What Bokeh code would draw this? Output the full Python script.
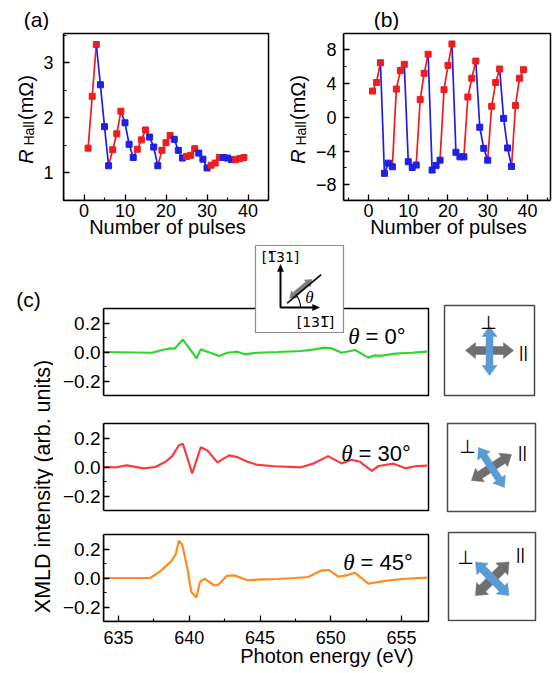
import math
import numpy as np
from bokeh.plotting import figure
from bokeh.models import Range1d, FixedTicker, Label, BoxAnnotation, PolyAnnotation
from bokeh.layouts import row, column
from bokeh.embed import file_html
from bokeh.resources import INLINE

SANS = "Liberation Sans"
SERIF = "Liberation Serif"
DEJAVU = "DejaVu Sans"

# ---------------- data ----------------
pulses = list(range(1, 40))
polarity = ["+", "+", "+", "-", "-", "-", "+", "+", "+", "-", "-", "-",
            "+", "+", "+", "-", "-", "-", "+", "+", "+", "-", "-", "-",
            "+", "+", "+", "-", "-", "-", "+", "+", "+", "-", "-", "-",
            "+", "+", "+"]
rhall_a = [1.45, 2.39, 3.33, 2.60, 1.84, 1.13, 1.42, 1.71, 2.12, 1.91, 1.52, 1.28,
           1.43, 1.60, 1.78, 1.65, 1.47, 1.13, 1.41, 1.55, 1.68, 1.61, 1.41, 1.27,
           1.30, 1.32, 1.44, 1.36, 1.25, 1.09, 1.14, 1.18, 1.28, 1.28, 1.27, 1.24,
           1.24, 1.26, 1.28]
rhall_b = [3.09, 4.11, 6.44, -6.64, -5.43, -5.86, 3.33, 5.51, 6.25, -5.27, -5.94, -5.66,
           2.08, 5.19, 7.45, -6.25, -5.70, -5.08, 3.25, 6.13, 8.66, -4.15, -4.69, -4.69,
           2.39, 4.61, 6.64, -1.19, -3.68, -5.08, 1.30, 4.11, 5.70, -0.14, -3.64, -5.82,
           1.38, 4.61, 5.62]

energy_0 = [633.93, 637.37, 638.08, 638.67, 638.96, 639.55, 640.52, 640.81, 641.28,
            642.11, 642.70, 643.41, 643.89, 644.83, 646.26, 647.91, 648.86, 649.57,
            650.05, 650.76, 651.71, 652.65, 653.13, 653.48, 654.55, 655.73, 656.80]
xmld_0 = [0.0, -0.005, 0.014, 0.025, 0.023, 0.086, -0.043, 0.018, 0.002,
          -0.027, -0.005, 0.002, -0.016, -0.005, 0.0, 0.007, 0.018, 0.030,
          0.025, -0.005, 0.014, -0.039, -0.023, -0.027, -0.011, -0.005, 0.002]

energy_30 = [633.93, 634.88, 635.59, 636.78, 637.61, 638.32, 638.79, 639.27, 639.55,
             640.21, 640.81, 641.28, 641.99, 642.82, 643.41, 644.12, 644.83, 646.02,
             647.91, 648.74, 649.81, 650.76, 651.47, 652.06, 652.89, 653.37, 654.43,
             655.26, 655.97, 656.80]
xmld_30 = [0.0, -0.002, 0.011, -0.009, 0.0, 0.036, 0.075, 0.150, 0.160,
           -0.045, 0.136, 0.114, 0.032, 0.080, 0.068, 0.036, 0.014, 0.005,
           -0.002, 0.023, 0.075, 0.025, 0.050, 0.036, -0.027, 0.007, 0.023,
           -0.009, 0.005, 0.009]

energy_45 = [633.93, 637.25, 637.96, 638.67, 639.03, 639.27, 639.50, 639.86, 640.14,
             640.50, 640.76, 641.09, 641.75, 642.04, 642.65, 643.18, 644.12, 645.07,
             646.26, 647.44, 648.39, 649.34, 649.88, 650.52, 651.11, 651.71, 652.65,
             653.84, 655.02, 656.80]
xmld_45 = [0.0, 0.0, 0.048, 0.109, 0.160, 0.257, 0.230, 0.070, -0.095,
           -0.134, -0.027, -0.005, -0.050, -0.048, 0.014, 0.018, -0.016, -0.009,
           -0.007, 0.0, 0.007, 0.052, 0.055, 0.009, 0.018, 0.036, -0.039,
           -0.020, -0.007, 0.002]

pulse_ticks = [0, 10, 20, 30, 40]
pulse_minor = [-5, 5, 15, 25, 35, 45]
a_ticks = [1, 2, 3]
a_minor = [0.5, 1.5, 2.5, 3.5]
b_ticks = [-8, -4, 0, 4, 8]
b_minor = [-10, -6, -2, 2, 6]
b_labels = {-8: "\u22128", -4: "\u22124", 0: "0", 4: "4", 8: "8"}
e_ticks = [635, 640, 645, 650, 655]
e_minor = [637.5, 642.5, 647.5, 652.5]
c_ticks = [-0.2, 0.0, 0.2]
c_minor = [-0.1, 0.1]
c_labels = {-0.2: "\u22120.2", 0.0: "0.0", 0.2: "0.2"}
A_X, A_Y = (-5, 45), (0.5, 3.53)
B_X, B_Y = (-6.3, 45.8), (-9.85, 9.9)
E_MIN, E_MAX = 633.94, 656.9
C_MIN, C_MAX = -0.3, 0.3

RED = "#ee1d1d"
BLUE = "#1f1fe6"
SPEC_COLORS = ["#2fd62f", "#fb3a3a", "#ff8c1f"]
GRAY_ARROW = "#6f6f6f"
BLUE_ARROW = "#5b9bd5"


# ---------------- helpers ----------------
def lin(px, p0, p1, v0, v1):
    return v0 + (px - p0) * (v1 - v0) / (p1 - p0)


def make_fig(canvas, frame, xr=(0, 1), yr=(0, 1), axes=True):
    cx0, cy0, cx1, cy1 = canvas
    fx0, fy0, fx1, fy1 = frame
    kw = {} if axes else dict(x_axis_type=None, y_axis_type=None)
    p = figure(width=cx1 - cx0, height=cy1 - cy0,
               x_range=Range1d(*xr), y_range=Range1d(*yr),
               min_border_left=fx0 - cx0, min_border_right=cx1 - fx1,
               min_border_top=fy0 - cy0, min_border_bottom=cy1 - fy1,
               toolbar_location=None, output_backend="svg", **kw)
    p.grid.visible = False
    p.background_fill_color = "white"
    p.border_fill_color = "white"
    p.outline_line_color = None
    return p, frame


def data_fig(canvas, frame, plot, xr, yr):
    """Frame may be larger than the drawn plot box; ranges are set so that
    xr / yr map exactly onto the plot box."""
    fx0, fy0, fx1, fy1 = frame
    px0, py0, px1, py1 = plot
    xrange_ = (lin(fx0, px0, px1, *xr), lin(fx1, px0, px1, *xr))
    yrange_ = (lin(fy1, py1, py0, *yr), lin(fy0, py1, py0, *yr))
    p, fr = make_fig(canvas, frame, xrange_, yrange_)
    p.add_layout(BoxAnnotation(left=xr[0], right=xr[1], bottom=yr[0], top=yr[1],
                               fill_alpha=0, line_color="black", line_alpha=1.0,
                               line_width=1.5))
    return p, fr


def style_axis(ax, ticks, minor, size, standoff, bounds, overrides=None):
    ax.ticker = FixedTicker(ticks=ticks, minor_ticks=minor)
    ax.bounds = bounds
    ax.major_tick_in = 6
    ax.major_tick_out = 0
    ax.minor_tick_in = 3
    ax.minor_tick_out = 0
    ax.axis_line_color = "black"
    ax.axis_line_width = 1.5
    ax.major_tick_line_color = "black"
    ax.minor_tick_line_color = "black"
    ax.major_tick_line_width = 1.3
    ax.minor_tick_line_width = 1.2
    ax.major_label_text_font = SANS
    ax.major_label_text_font_size = f"{size}px"
    ax.major_label_text_color = "black"
    ax.major_label_standoff = standoff
    if overrides:
        ax.major_label_overrides = overrides


def axis_title(ax, txt, size, standoff):
    ax.axis_label = txt
    ax.axis_label_text_font = SANS
    ax.axis_label_text_font_size = f"{size}px"
    ax.axis_label_text_font_style = "normal"
    ax.axis_label_text_color = "black"
    ax.axis_label_standoff = standoff


def S(fr, px, py):
    return px - fr[0], fr[3] - py


def text(p, fr, px, py, txt, size, font=SANS, style="normal", align="center",
         baseline="middle", angle=0.0):
    x, y = S(fr, px, py)
    p.add_layout(Label(x=x, y=y, x_units="screen", y_units="screen", text=txt,
                       text_font=font, text_font_size=f"{size}px",
                       text_font_style=style, text_align=align,
                       text_baseline=baseline, angle=angle, text_color="black"))


def poly(p, fr, pts, color, line_only=False, width=1.0):
    xs = [q[0] - fr[0] for q in pts]
    ys = [fr[3] - q[1] for q in pts]
    if line_only:
        p.add_layout(PolyAnnotation(xs=xs, ys=ys, xs_units="screen", ys_units="screen",
                                    fill_alpha=0, line_color=color, line_alpha=1.0,
                                    line_width=width))
    else:
        p.add_layout(PolyAnnotation(xs=xs, ys=ys, xs_units="screen", ys_units="screen",
                                    fill_color=color, fill_alpha=1.0, line_color=color,
                                    line_alpha=1.0, line_width=0.5))


def arrow_shape(p0, p1, shaft, head_w, head_len, both=True):
    x0, y0 = p0
    x1, y1 = p1
    L = math.hypot(x1 - x0, y1 - y0)
    ux, uy = (x1 - x0) / L, (y1 - y0) / L
    nx, ny = -uy, ux

    def at(base, along, side):
        return (base[0] + ux * along + nx * side, base[1] + uy * along + ny * side)
    hs, hh = shaft / 2, head_w / 2
    if head_len <= 0:
        return [at(p0, 0, hs), at(p1, 0, hs), at(p1, 0, -hs), at(p0, 0, -hs)]
    if both:
        return [p0, at(p0, head_len, hh), at(p0, head_len, hs), at(p1, -head_len, hs),
                at(p1, -head_len, hh), p1, at(p1, -head_len, -hh), at(p1, -head_len, -hs),
                at(p0, head_len, -hs), at(p0, head_len, -hh)]
    return [at(p0, 0, hs), at(p1, -head_len, hs), at(p1, -head_len, hh), p1,
            at(p1, -head_len, -hh), at(p1, -head_len, -hs), at(p0, 0, -hs)]


def box(p, fr, rect, color, width):
    l, t, r, b = rect
    x0, y0 = S(fr, l, b)
    x1, y1 = S(fr, r, t)
    p.add_layout(BoxAnnotation(left=x0, right=x1, bottom=y0, top=y1,
                               left_units="screen", right_units="screen",
                               top_units="screen", bottom_units="screen",
                               fill_color="white", fill_alpha=1.0,
                               line_color=color, line_alpha=1.0, line_width=width))


def polarization_box(p, fr, rect, gray, blue, perp_pos, par_pos, gshape, bshape):
    box(p, fr, rect, "#4a4a4a", 1.5)
    poly(p, fr, arrow_shape(gray[0], gray[1], *gshape), GRAY_ARROW)
    poly(p, fr, arrow_shape(blue[0], blue[1], *bshape), BLUE_ARROW)
    text(p, fr, perp_pos[0], perp_pos[1], "\u22a5", 19, font=DEJAVU)
    text(p, fr, par_pos[0], par_pos[1], "||", 17)


# ---------------- header with panel letters ----------------
head, frh = make_fig((0, 0, 554, 30), (0, 0, 554, 30), axes=False)
text(head, frh, 36, 19, "(a)", 21)
text(head, frh, 386, 19, "(b)", 21)


# ---------------- panels (a) and (b) ----------------
# every plot in this row gets the same top/bottom borders (frames are aligned)
ROW_TOP, FRAME_TOP, FRAME_BOT, ROW_BOT = 30, 30, 200, 244


def r_hall_title(x0, x1, mid_x):
    # rotated labels are anchored at the middle of their text box
    p, fr = make_fig((x0, ROW_TOP, x1, ROW_BOT), (x0, FRAME_TOP, x1, FRAME_BOT), axes=False)
    half = math.pi / 2
    text(p, fr, mid_x, 156, "R", 20, style="italic", baseline="alphabetic", angle=half)
    text(p, fr, mid_x + 3, 133, "Hall", 14, baseline="alphabetic", angle=half)
    text(p, fr, mid_x, 97, "(m\u03a9)", 20, baseline="alphabetic", angle=half)
    return p


def pulse_panel(x0, x1, plot, frame_r, xr, yr, yvals, yticks, yminor, ystand, overrides):
    p, fr = data_fig((x0, ROW_TOP, x1, ROW_BOT), (plot[0], FRAME_TOP, frame_r, FRAME_BOT),
                     plot, xr, yr)
    colors = [RED if s == "+" else BLUE for s in polarity]
    p.segment(x0=pulses[:-1], y0=yvals[:-1], x1=pulses[1:], y1=yvals[1:],
              line_color=colors[1:], line_width=1.7)
    p.scatter(pulses, yvals, marker="square", size=6, fill_color=colors,
              line_color=colors)
    style_axis(p.xaxis[0], pulse_ticks, pulse_minor, 18, 3, xr)
    style_axis(p.yaxis[0], yticks, yminor, 18, ystand, yr, overrides)
    axis_title(p.xaxis[0], "Number of pulses", 20, -4)
    return p


ta = r_hall_title(0, 40, 25.5)
fig_a = pulse_panel(40, 285, (61, 33, 268, 200), 271, A_X, A_Y,
                    rhall_a, a_ticks, a_minor, 10, None)
tb = r_hall_title(285, 312, 297.5)
fig_b = pulse_panel(312, 554, (343, 33, 550, 200), 553, B_X, B_Y,
                    rhall_b, b_ticks, b_minor, 7, b_labels)


# ---------------- panel (c) ----------------
PLOT_L, PLOT_R = 103, 428


def xmld_panel(canvas, frame, plot_top, plot_bot, energy, xmld, color, show_x):
    p, fr = data_fig(canvas, frame, (PLOT_L, plot_top, PLOT_R, plot_bot),
                     (E_MIN, E_MAX), (C_MIN, C_MAX))
    p.line(energy, xmld, line_color=color, line_width=2.2)
    style_axis(p.yaxis[0], c_ticks, c_minor, 19, 3, (C_MIN, C_MAX), c_labels)
    if show_x:
        style_axis(p.xaxis[0], e_ticks, e_minor, 18, 9, (E_MIN, E_MAX))
        axis_title(p.xaxis[0], "Photon energy (eV)", 20, -2)
    else:
        p.xaxis.visible = False
    return p, fr


c1, fr1 = xmld_panel((53, 244, 554, 408), (103, 244, 550, 400), 308, 395,
                     energy_0, xmld_0, SPEC_COLORS[0], False)
c2, fr2 = xmld_panel((53, 408, 554, 520), (103, 408, 550, 514), 423, 510,
                     energy_30, xmld_30, SPEC_COLORS[1], False)
c3, fr3 = xmld_panel((53, 520, 554, 672), (103, 520, 550, 621), 534, 621,
                     energy_45, xmld_45, SPEC_COLORS[2], True)

# angle labels
for p, fr, th_r, eq_l, base, lab in [(c1, fr1, 359, 365, 336, "= 0\u00b0"),
                                     (c2, fr2, 352, 358, 453, "= 30\u00b0"),
                                     (c3, fr3, 354, 360, 562, "= 45\u00b0")]:
    text(p, fr, th_r, base, "\u03b8", 23, font=SERIF, style="italic", align="right",
         baseline="alphabetic")
    text(p, fr, eq_l, base, lab, 22, align="left", baseline="alphabetic")

# inset with crystal axes (drawn over the top of panel c1)
box(c1, fr1, (255, 245, 343, 332), "#8c8c8c", 1.2)
O = (280, 307)
poly(c1, fr1, arrow_shape(O, (280, 264), 1.4, 6, 7, both=False), "black")
poly(c1, fr1, arrow_shape(O, (319, 307), 1.4, 6, 7, both=False), "black")
ang = math.radians(40)


def on_diag(r, off=0.0):
    return (O[0] + r * math.cos(ang) + off * math.sin(ang),
            O[1] - r * math.sin(ang) + off * math.cos(ang))


poly(c1, fr1, arrow_shape(on_diag(13, -1.2), on_diag(42, -1.2), 4.5, 9, 6), "#7d7d7d")
poly(c1, fr1, arrow_shape(on_diag(8, 1.0), on_diag(52, 1.0), 1.3, 0, 0), "black")
t = np.linspace(0, ang, 16)
arc = [(O[0] + 20 * math.cos(a), O[1] - 20 * math.sin(a)) for a in t]
poly(c1, fr1, arc + arc[::-1], "black", line_only=True, width=1.1)
text(c1, fr1, 309, 297, "\u03b8", 17, font=SERIF, style="italic")
text(c1, fr1, 280, 256, "[1\u030531]", 14, font=DEJAVU)
text(c1, fr1, 315, 321, "[131\u0305]", 14, font=DEJAVU)

# polarization sketches
polarization_box(c1, fr1, (444, 305, 534, 395),
                 ((465, 350), (513, 350)), ((489, 326), (489, 375)),
                 (488, 321), (523, 352), (8, 16, 10), (7, 15, 10))
polarization_box(c2, fr2, (447, 423, 535, 511),
                 ((471, 480), (511, 454)), ((478, 447), (504, 487)),
                 (467, 445), (522, 452), (8, 16, 10), (7, 15, 10))
polarization_box(c3, fr3, (448, 532, 535, 620),
                 ((475, 595), (508.5, 561.5)), ((475, 561.5), (508.5, 595)),
                 (465, 556), (520, 554), (9, 17, 10), (8, 16, 10))

# title column for panel (c)
tfig, frt = make_fig((0, 244, 53, 672), (0, 244, 53, 672), axes=False)
text(tfig, frt, 28, 299, "(c)", 21)
text(tfig, frt, 42, 486, "XMLD intensity (arb. units)", 21.5,
     baseline="alphabetic", angle=math.pi / 2)

layout = column(head, row(ta, fig_a, tb, fig_b), row(tfig, column(c1, c2, c3)))
open("out.html", "w").write(file_html(layout, INLINE))
